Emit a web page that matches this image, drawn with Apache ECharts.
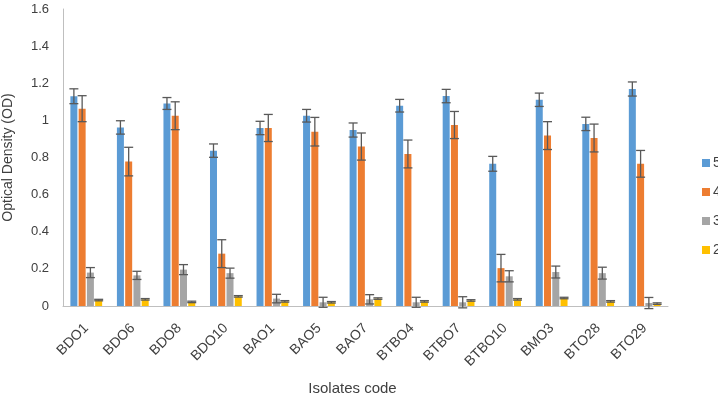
<!DOCTYPE html>
<html>
<head>
<meta charset="utf-8">
<script src="https://cdn.jsdelivr.net/npm/echarts@6/dist/echarts.min.js"></script>
<style>
  html, body { margin: 0; padding: 0; background: #fff; }
  #chart { width: 718px; height: 393px; }
</style>
</head>
<body>
<div id="chart"></div>
<script>
// Isolates on the x axis
const categories = ['BDO1', 'BDO6', 'BDO8', 'BDO10', 'BAO1', 'BAO5', 'BAO7',
  'BTBO4', 'BTBO7', 'BTBO10', 'BMO3', 'BTO28', 'BTO29'];

// Mean OD per series
const od5 = [1.13, 0.962, 1.091, 0.837, 0.959, 1.025, 0.948, 1.079, 1.131, 0.766, 1.111, 0.981, 1.169];
const od4 = [1.063, 0.778, 1.025, 0.282, 0.959, 0.939, 0.859, 0.819, 0.975, 0.204, 0.918, 0.905, 0.766];
const od3 = [0.18, 0.165, 0.196, 0.177, 0.04, 0.02, 0.036, 0.02, 0.02, 0.16, 0.183, 0.177, 0.016];
const od2 = [0.032, 0.036, 0.022, 0.052, 0.025, 0.02, 0.04, 0.025, 0.03, 0.036, 0.043, 0.025, 0.013];

// Error bar half-lengths
const err5 = [0.04, 0.036, 0.032, 0.036, 0.036, 0.034, 0.038, 0.034, 0.036, 0.04, 0.036, 0.036, 0.038];
const err4 = [0.07, 0.077, 0.075, 0.075, 0.073, 0.077, 0.073, 0.075, 0.073, 0.074, 0.075, 0.075, 0.072];
const err3 = [0.027, 0.022, 0.027, 0.027, 0.023, 0.027, 0.025, 0.027, 0.03, 0.03, 0.032, 0.032, 0.03];
const err2 = [0.004, 0.004, 0.004, 0.004, 0.004, 0.004, 0.004, 0.004, 0.004, 0.004, 0.004, 0.004, 0.004];

const seriesNames = ['5', '4', '3', '2'];
const yTicks = { min: 0, max: 1.6, interval: 0.2 };

const colors = ['#5b9bd5', '#ed7d31', '#a5a5a5', '#ffc000'];
const textColor = '#404040';
const axisColor = '#bfbfbf';
const font = 'Liberation Sans, Arial, sans-serif';

const barWidth = 7;
const barGapRatio = 0.18;
const step = barWidth * (1 + barGapRatio);

const values = [od5, od4, od3, od2];
const errors = [err5, err4, err3, err2];

// error bars drawn by a custom series shifted to sit on each bar
const errRender = (idx) => (params, api) => {
  const c = api.value(0);
  const lo = api.coord([c, api.value(1)]);
  const hi = api.coord([c, api.value(2)]);
  const x = lo[0] + (idx - 1.5) * step;
  const cap = 4.5;
  const style = { stroke: '#595959', lineWidth: 1.3 };
  return {
    type: 'group',
    children: [
      { type: 'line', shape: { x1: x, y1: lo[1], x2: x, y2: hi[1] }, style },
      { type: 'line', shape: { x1: x - cap, y1: hi[1], x2: x + cap, y2: hi[1] }, style },
      { type: 'line', shape: { x1: x - cap, y1: lo[1], x2: x + cap, y2: lo[1] }, style }
    ]
  };
};

const series = [];
seriesNames.forEach((name, i) => {
  series.push({
    name,
    type: 'bar',
    data: values[i],
    barWidth,
    barGap: (barGapRatio * 100) + '%',
    itemStyle: { color: colors[i] },
    z: 2
  });
});
seriesNames.forEach((name, i) => {
  series.push({
    type: 'custom',
    renderItem: errRender(i),
    data: categories.map((c, k) => [k, values[i][k] - errors[i][k], values[i][k] + errors[i][k]]),
    encode: { x: 0, y: [1, 2] },
    z: 5,
    silent: true
  });
});

const chart = echarts.init(document.getElementById('chart'));
chart.setOption({
  animation: false,
  backgroundColor: '#fff',
  textStyle: { fontFamily: font, color: textColor },
  grid: { left: 63, right: 50, top: 9, bottom: 87, containLabel: false, outerBoundsMode: 'none' },
  legend: {
    data: seriesNames,
    orient: 'vertical',
    left: 697,
    top: 151,
    itemWidth: 8,
    itemHeight: 8,
    itemGap: 15,
    icon: 'rect',
    textStyle: { fontSize: 14, color: textColor, fontFamily: font, padding: [0, 0, 0, -2] }
  },
  xAxis: {
    type: 'category',
    data: categories,
    axisLine: { lineStyle: { color: axisColor, width: 1 } },
    axisTick: { show: false },
    axisLabel: { rotate: 45, fontSize: 14, color: textColor, margin: 20, interval: 0 },
    name: 'Isolates code',
    nameLocation: 'middle',
    nameGap: 75,
    nameTextStyle: { fontSize: 15, color: textColor, padding: [0, 26, 0, 0] }
  },
  yAxis: {
    type: 'value',
    min: yTicks.min,
    max: yTicks.max,
    interval: yTicks.interval,
    axisLine: { show: true, lineStyle: { color: axisColor, width: 1 } },
    axisTick: { show: false },
    splitLine: { show: false },
    axisLabel: { fontSize: 13, color: textColor, margin: 14 },
    name: 'Optical Density (OD)',
    nameLocation: 'middle',
    nameGap: 48,
    nameTextStyle: { fontSize: 14, color: textColor }
  },
  series
});
</script>
</body>
</html>
